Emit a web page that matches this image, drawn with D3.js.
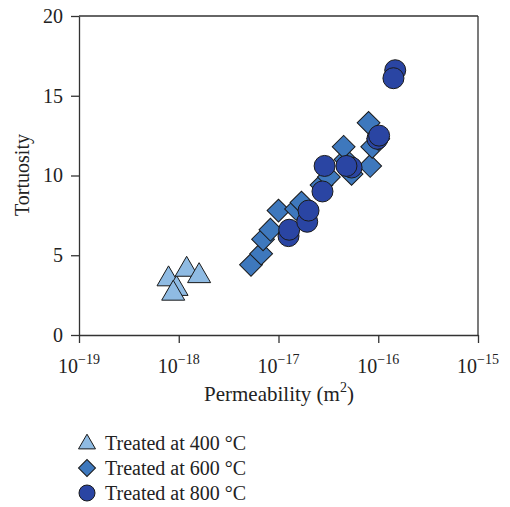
<!DOCTYPE html>
<html><head><meta charset="utf-8">
<script src="https://cdn.jsdelivr.net/npm/d3@7"></script>
<style>body{margin:0;background:#fff}svg{display:block}</style>
</head><body>
<svg id="c" width="510" height="507"></svg>
<script>
const xTicks = [1e-19, 1e-18, 1e-17, 1e-16, 1e-15];
const xTickExp = ["−19", "−18", "−17", "−16", "−15"];
const yTicks = [0, 5, 10, 15, 20];
const seriesNames = ["Treated at 400 °C", "Treated at 600 °C", "Treated at 800 °C"];
const t400 = [[7.9e-19,3.5],[9.5e-19,2.9],[1.2e-18,4.1],[1.6e-18,3.7],[8.8e-19,2.6]];
const t600 = [[5.3e-18,4.4],[6.7e-18,5.1],[7.0e-18,6.0],[8.3e-18,6.6],[1.0e-17,7.8],[1.5e-17,7.9],[1.7e-17,8.3],
  [2.7e-17,9.4],[3.2e-17,9.9],[4.7e-17,11.0],[4.5e-17,11.8],[5.4e-17,10.1],[8.3e-17,10.6],[8.7e-17,11.8],[8.0e-17,13.3],[1.0e-16,12.3]];
const t800 = [[1.26e-17,6.2],[1.28e-17,6.6],[1.94e-17,7.1],[2.0e-17,7.8],[2.76e-17,9.0],[2.9e-17,10.6],
  [5.4e-17,10.5],[4.8e-17,10.6],[9.8e-17,12.3],[1.02e-16,12.5],[1.48e-16,16.6],[1.42e-16,16.1]];

const svg = d3.select("#c");
const font = "'Liberation Serif', 'DejaVu Serif', serif";
const L=79, R=478, T=16, B=335;
const x = d3.scaleLog().domain([1e-19,1e-15]).range([L,R]);
const y = d3.scaleLinear().domain([0,20]).range([B,T]);
const axisColor = "#333";
const textColor = "#222";

// frame
svg.append("line").attr("x1",L).attr("x2",R).attr("y1",T).attr("y2",T).attr("stroke",axisColor).attr("stroke-width",1.3);
svg.append("line").attr("x1",R).attr("x2",R).attr("y1",T).attr("y2",B).attr("stroke",axisColor).attr("stroke-width",1.3);

const xa = svg.append("g").attr("transform",`translate(0,${B})`)
  .call(d3.axisBottom(x).tickValues(xTicks).tickSize(8).tickSizeOuter(0).tickFormat(""));
const ya = svg.append("g").attr("transform",`translate(${L},0)`)
  .call(d3.axisLeft(y).tickValues(yTicks).tickSize(8).tickSizeOuter(0).tickPadding(8));
[xa,ya].forEach(a=>{a.selectAll("path,line").attr("stroke",axisColor).attr("stroke-width",1.3);});
ya.selectAll("text").attr("font-family",font).attr("font-size",20).attr("fill",textColor);

xTicks.forEach((v,i)=>{
  const t = svg.append("text").attr("x",x(v)).attr("y",373).attr("text-anchor","middle")
    .attr("font-family",font).attr("font-size",20).attr("fill",textColor);
  t.append("tspan").text("10");
  t.append("tspan").attr("dy",-9).attr("font-size",14).text(xTickExp[i]);
});

const xt = svg.append("text").attr("x",279).attr("y",401).attr("text-anchor","middle")
  .attr("font-family",font).attr("font-size",21).attr("fill",textColor);
xt.append("tspan").text("Permeability (m");
xt.append("tspan").attr("dy",-9).attr("font-size",14).text("2");
xt.append("tspan").attr("dy",9).text(")");

svg.append("text").attr("transform",`translate(29,175) rotate(-90)`).attr("text-anchor","middle")
  .attr("font-family",font).attr("font-size",20).attr("fill",textColor).text("Tortuosity");

const stroke = "#1a1a1a";
const colors = ["#8fbbe3","#3e78bd","#2a45a3"];
const symTri = d3.symbol().type(d3.symbolTriangle).size(230);
const symDia = d3.symbol().type(d3.symbolSquare).size(260);

const g = svg.append("g");
g.selectAll(".tri").data(t400).join("path").attr("d",symTri)
  .attr("transform",d=>`translate(${x(d[0])},${y(d[1])})`)
  .attr("fill",colors[0]).attr("stroke",stroke).attr("stroke-width",1);
g.selectAll(".dia").data(t600).join("path").attr("d",symDia)
  .attr("transform",d=>`translate(${x(d[0])},${y(d[1])}) rotate(45)`)
  .attr("fill",colors[1]).attr("stroke",stroke).attr("stroke-width",1);
g.selectAll(".cir").data(t800).join("circle").attr("r",10.5)
  .attr("cx",d=>x(d[0])).attr("cy",d=>y(d[1]))
  .attr("fill",colors[2]).attr("stroke",stroke).attr("stroke-width",1);

// legend
const ly = [443,468,493];
const lg = svg.append("g");
lg.append("path").attr("d",d3.symbol().type(d3.symbolTriangle).size(125)).attr("transform",`translate(87,${ly[0]+1})`)
  .attr("fill",colors[0]).attr("stroke",stroke).attr("stroke-width",1);
lg.append("path").attr("d",d3.symbol().type(d3.symbolSquare).size(144)).attr("transform",`translate(87,${ly[1]}) rotate(45)`)
  .attr("fill",colors[1]).attr("stroke",stroke).attr("stroke-width",1);
lg.append("circle").attr("r",8).attr("cx",87).attr("cy",ly[2])
  .attr("fill",colors[2]).attr("stroke",stroke).attr("stroke-width",1);
seriesNames.forEach((s,i)=>{
  lg.append("text").attr("x",105).attr("y",ly[i]+7).attr("font-family",font).attr("font-size",20)
    .attr("fill",textColor).text(s);
});
</script>
</body></html>
